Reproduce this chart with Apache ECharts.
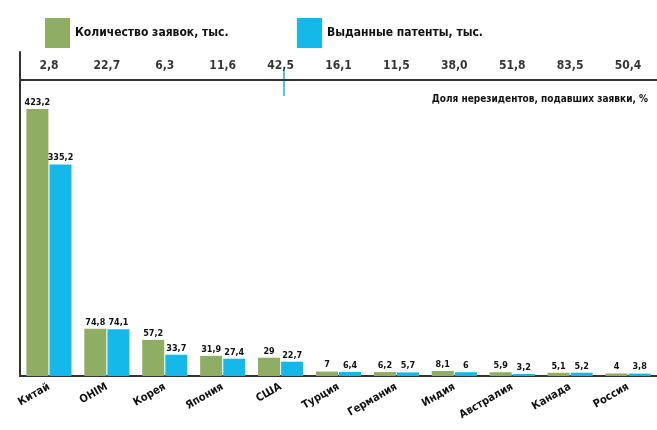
<!DOCTYPE html>
<html><head><meta charset="utf-8">
<script src="https://cdn.jsdelivr.net/npm/echarts@6/dist/echarts.min.js"></script>
<style>html,body{margin:0;padding:0;background:#fff}#c{width:657px;height:430px}</style>
</head><body><div id="c"></div>
<script>
var categories = ['Китай','OHIM','Корея','Япония','США','Турция','Германия','Индия','Австралия','Канада','Россия'];
var applications = [423.2, 74.8, 57.2, 31.9, 29, 7, 6.2, 8.1, 5.9, 5.1, 4];
var grants = [335.2, 74.1, 33.7, 27.4, 22.7, 6.4, 5.7, 6, 3.2, 5.2, 3.8];
var nonResidentShare = [2.8, 22.7, 6.3, 11.6, 42.5, 16.1, 11.5, 38.0, 51.8, 83.5, 50.4];
var legendNames = ['Количество заявок, тыс.', 'Выданные патенты, тыс.'];
var shareTitle = 'Доля нерезидентов, подавших заявки, %';

var FONT = '"DejaVu Sans Condensed", "Liberation Sans Narrow", sans-serif';
var GREEN = '#8fae63', BLUE = '#14b9ea', LINE = '#333';
function fmt(v){ return String(v).replace('.', ','); }

var chart = echarts.init(document.getElementById('c'));
chart.setOption({
  animation: false,
  textStyle: {fontFamily: FONT},
  legend: [
    {left: 40, top: 13, icon: 'rect', itemWidth: 25, itemHeight: 30, data: [legendNames[0]],
     textStyle: {fontFamily: FONT, fontWeight: 'bold', fontSize: 12, color: '#111'}},
    {left: 292, top: 13, icon: 'rect', itemWidth: 25, itemHeight: 30, data: [legendNames[1]],
     textStyle: {fontFamily: FONT, fontWeight: 'bold', fontSize: 12, color: '#111'}}
  ],
  title: {text: shareTitle, right: 4, top: 89,
    textStyle: {fontFamily: FONT, fontWeight: 'bold', fontSize: 10, color: '#111'}},
  grid: [
    {left: 20, right: 0, top: 80, bottom: 54},
    {left: 20, right: 0, top: 52, height: 28}
  ],
  xAxis: [
    {type: 'category', gridIndex: 0, data: categories,
     axisLine: {lineStyle: {color: LINE, width: 2}}, axisTick: {show: false},
     axisLabel: {rotate: 30, fontFamily: FONT, fontWeight: 'bold', fontSize: 11, color: '#111', margin: 10, interval: 0}},
    {type: 'category', gridIndex: 1, position: 'top', data: categories,
     axisLine: {lineStyle: {color: LINE, width: 2}}, axisTick: {show: false}, axisLabel: {show: false}},
    {type: 'category', gridIndex: 1, position: 'bottom', data: categories,
     axisLine: {lineStyle: {color: LINE, width: 2}}, axisTick: {show: false}, axisLabel: {show: false}}
  ],
  yAxis: [
    {type: 'value', gridIndex: 0, min: 0, max: 469, splitLine: {show: false},
     axisLabel: {show: false}, axisTick: {show: false},
     axisLine: {show: true, lineStyle: {color: LINE, width: 2}}},
    {type: 'value', gridIndex: 1, min: 0, max: 1, splitLine: {show: false},
     axisLabel: {show: false}, axisTick: {show: false},
     axisLine: {show: true, lineStyle: {color: LINE, width: 2}}}
  ],
  series: [
    {name: legendNames[0], type: 'bar', xAxisIndex: 0, yAxisIndex: 0, data: applications,
     barWidth: 22, barGap: '5%', itemStyle: {color: GREEN},
     label: {show: true, position: 'top', distance: 2, formatter: function(p){return fmt(p.value);},
       fontFamily: FONT, fontWeight: 'bold', fontSize: 9, color: '#111'}},
    {name: legendNames[1], type: 'bar', xAxisIndex: 0, yAxisIndex: 0, data: grants,
     barWidth: 22, itemStyle: {color: BLUE},
     label: {show: true, position: 'top', distance: 2, formatter: function(p){return fmt(p.value);},
       fontFamily: FONT, fontWeight: 'bold', fontSize: 9, color: '#111'}},
    {type: 'scatter', xAxisIndex: 1, yAxisIndex: 1, symbolSize: 0,
     itemStyle: {color: '#000'}, silent: true,
     data: nonResidentShare.map(function(v, i){ return [categories[i], 0.5]; }),
     label: {show: true, position: 'inside', textBorderWidth: 0,
       formatter: function(p){ return nonResidentShare[p.dataIndex].toFixed(1).replace('.', ','); },
       fontFamily: FONT, fontWeight: 'bold', fontSize: 12, color: '#000'}}
  ],
  graphic: [
    {type: 'line', shape: {x1: 284, y1: 70, x2: 284, y2: 96}, style: {stroke: BLUE, lineWidth: 1.5}}
  ]
});
</script></body></html>
